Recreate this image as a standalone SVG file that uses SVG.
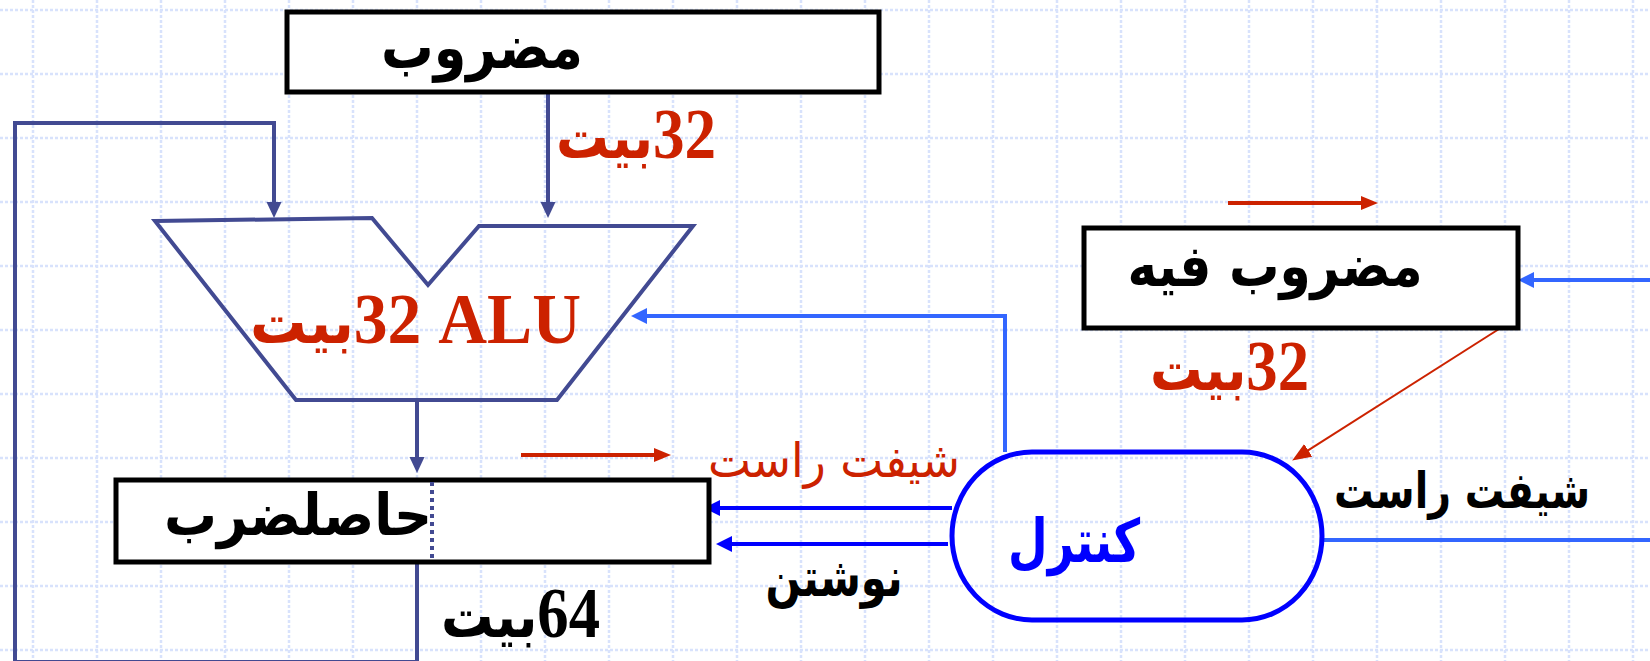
<svg xmlns="http://www.w3.org/2000/svg" width="1650" height="661" viewBox="0 0 1650 661">
<style>
.grid line{stroke:#d8e2fc;stroke-width:2.5;stroke-dasharray:3 2}
.box{fill:#fff;stroke:#000;stroke-width:5}
.dk{fill:none;stroke:#424a92;stroke-width:4}
.lb{fill:none;stroke:#3366ff;stroke-width:4}
.bl{fill:none;stroke:#0000ff;stroke-width:4}
.rd{fill:none;stroke:#cc2200;stroke-width:4}
.rdt{fill:none;stroke:#cc2200;stroke-width:2}
.ar{font-family:"DejaVu Sans",sans-serif;font-weight:bold}
.mx{font-family:"Liberation Serif","DejaVu Sans",serif;font-weight:bold}
.sa{font-family:"DejaVu Sans",sans-serif}
</style>
<defs>
<marker id="mDk" markerUnits="userSpaceOnUse" markerWidth="16" markerHeight="16" refX="8" refY="7.5" orient="auto"><path d="M0,0 L16,7.5 L0,15 z" fill="#424a92"/></marker>
<marker id="mLb" markerUnits="userSpaceOnUse" markerWidth="16" markerHeight="17" refX="8" refY="8" orient="auto"><path d="M0,0 L16,8 L0,16 z" fill="#3366ff"/></marker>
<marker id="mBl" markerUnits="userSpaceOnUse" markerWidth="16" markerHeight="17" refX="8" refY="8" orient="auto"><path d="M0,0 L16,8 L0,16 z" fill="#0000ff"/></marker>
<marker id="mRd" markerUnits="userSpaceOnUse" markerWidth="18" markerHeight="15" refX="8" refY="7" orient="auto"><path d="M0,0 L17,7 L0,14 z" fill="#cc2200"/></marker>
<marker id="mRdt" markerUnits="userSpaceOnUse" markerWidth="20" markerHeight="16" refX="9" refY="7.5" orient="auto"><path d="M0,0 L19,7.5 L0,15 z" fill="#cc2200"/></marker>
</defs>
<rect width="1650" height="661" fill="#fff"/>
<g class="grid">
<line x1="33" y1="0" x2="33" y2="661"/><line x1="97" y1="0" x2="97" y2="661"/><line x1="161" y1="0" x2="161" y2="661"/><line x1="225" y1="0" x2="225" y2="661"/><line x1="289" y1="0" x2="289" y2="661"/><line x1="353" y1="0" x2="353" y2="661"/><line x1="417" y1="0" x2="417" y2="661"/><line x1="481" y1="0" x2="481" y2="661"/><line x1="545" y1="0" x2="545" y2="661"/><line x1="609" y1="0" x2="609" y2="661"/><line x1="673" y1="0" x2="673" y2="661"/><line x1="737" y1="0" x2="737" y2="661"/><line x1="801" y1="0" x2="801" y2="661"/><line x1="865" y1="0" x2="865" y2="661"/><line x1="929" y1="0" x2="929" y2="661"/><line x1="993" y1="0" x2="993" y2="661"/><line x1="1057" y1="0" x2="1057" y2="661"/><line x1="1121" y1="0" x2="1121" y2="661"/><line x1="1185" y1="0" x2="1185" y2="661"/><line x1="1249" y1="0" x2="1249" y2="661"/><line x1="1313" y1="0" x2="1313" y2="661"/><line x1="1377" y1="0" x2="1377" y2="661"/><line x1="1441" y1="0" x2="1441" y2="661"/><line x1="1505" y1="0" x2="1505" y2="661"/><line x1="1569" y1="0" x2="1569" y2="661"/><line x1="1633" y1="0" x2="1633" y2="661"/>
<line x1="0" y1="10" x2="1650" y2="10"/><line x1="0" y1="74" x2="1650" y2="74"/><line x1="0" y1="138" x2="1650" y2="138"/><line x1="0" y1="202" x2="1650" y2="202"/><line x1="0" y1="266" x2="1650" y2="266"/><line x1="0" y1="330" x2="1650" y2="330"/><line x1="0" y1="394" x2="1650" y2="394"/><line x1="0" y1="458" x2="1650" y2="458"/><line x1="0" y1="522" x2="1650" y2="522"/><line x1="0" y1="586" x2="1650" y2="586"/><line x1="0" y1="650" x2="1650" y2="650"/>
</g>
<g id="connectors">
<path class="dk" d="M548 94 V210" marker-end="url(#mDk)"/>
<path class="dk" d="M417 563 V662 H15 V123 H274 V210" marker-end="url(#mDk)"/>
<path class="dk" d="M417 400 V465" marker-end="url(#mDk)"/>
<path class="lb" d="M1005 452 V316 H639" marker-end="url(#mLb)"/>
<path class="lb" d="M1650 280 H1526" marker-end="url(#mLb)"/>
<path class="lb" d="M1323 540 H1650"/>
<path class="bl" d="M952 508 H712" marker-end="url(#mBl)"/>
<path class="bl" d="M948 544 H724" marker-end="url(#mBl)"/>
<path class="rd" d="M521 455 H662" marker-end="url(#mRd)"/>
<path class="rd" d="M1228 203 H1369" marker-end="url(#mRd)"/>
<path class="rdt" d="M1510 322 L1300.6 455.2" marker-end="url(#mRdt)"/>
</g>
<g id="multiplicand">
<rect class="box" x="287" y="12" width="592" height="80"/>
<text class="ar" x="482" y="68" font-size="60" text-anchor="middle" textLength="202" lengthAdjust="spacingAndGlyphs">مضروب</text>
</g>
<text class="mx" x="556" y="158" font-size="72" fill="#cc2200" textLength="160" lengthAdjust="spacingAndGlyphs"><tspan font-size="60">بيت</tspan>&#x200E;32</text>
<g id="alu">
<polygon class="dk" points="155,221 372,218 428,285 479,226 693,226 557,400 296,400"/>
<text class="mx" x="250" y="343" font-size="72" fill="#cc2200" textLength="331" lengthAdjust="spacingAndGlyphs"><tspan font-size="60">بيت</tspan>&#x200E;32 ALU</text>
</g>
<g id="product">
<rect class="box" x="116" y="480" width="593" height="82"/>
<line x1="432" y1="482" x2="432" y2="560" stroke="#424a92" stroke-width="4" stroke-dasharray="4 4"/>
<text class="ar" x="298" y="535" font-size="58" text-anchor="middle" textLength="268" lengthAdjust="spacingAndGlyphs">حاصلضرب</text>
</g>
<text class="mx" x="441" y="637" font-size="72" fill="#000" textLength="159" lengthAdjust="spacingAndGlyphs"><tspan font-size="60">بيت</tspan>&#x200E;64</text>
<text class="sa" x="834" y="477" font-size="48" fill="#cc2200" text-anchor="middle" textLength="252" lengthAdjust="spacingAndGlyphs">شيفت راست</text>
<text class="ar" x="834" y="596" font-size="54" text-anchor="middle" textLength="137" lengthAdjust="spacingAndGlyphs">نوشتن</text>
<g id="control">
<rect x="952" y="452" width="370" height="168" rx="80" ry="84" fill="none" stroke="#0000ff" stroke-width="5"/>
<text class="ar" x="1074" y="562" font-size="60" fill="#0000ff" text-anchor="middle" textLength="132" lengthAdjust="spacingAndGlyphs">كنترل</text>
</g>
<g id="multiplier">
<rect class="box" x="1084" y="228" width="434" height="100"/>
<text class="ar" x="1275" y="286" font-size="58" text-anchor="middle" textLength="295" lengthAdjust="spacingAndGlyphs">مضروب فيه</text>
</g>
<text class="mx" x="1150" y="390" font-size="72" fill="#cc2200" textLength="159" lengthAdjust="spacingAndGlyphs"><tspan font-size="60">بيت</tspan>&#x200E;32</text>
<text class="ar" x="1462" y="508" font-size="50" text-anchor="middle" textLength="256" lengthAdjust="spacingAndGlyphs">شيفت راست</text>
</svg>
